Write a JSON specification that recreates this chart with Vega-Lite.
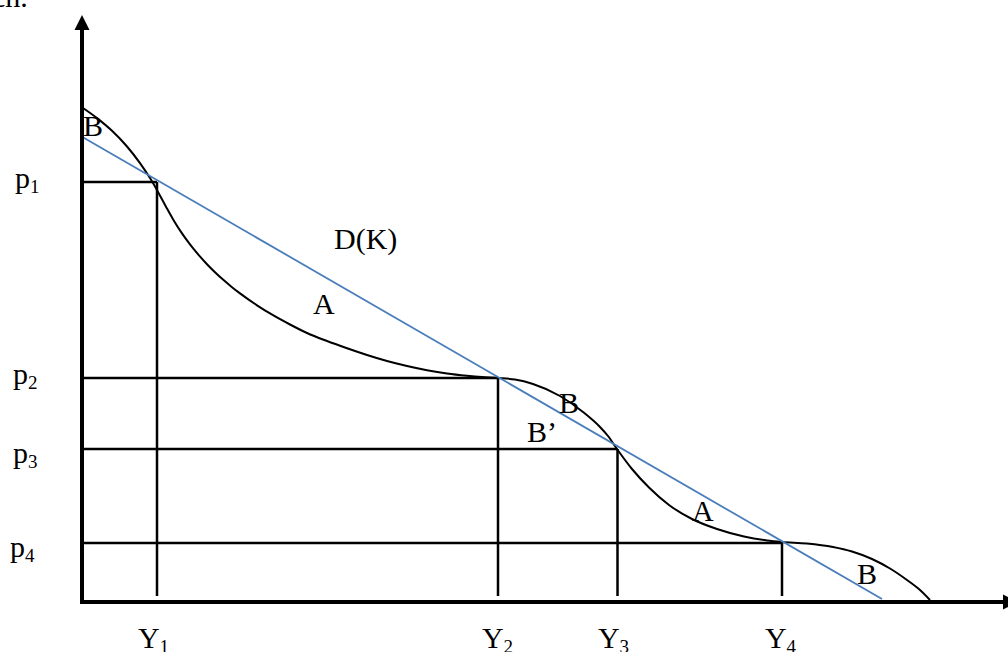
{
  "$schema": "https://vega.github.io/schema/vega-lite/v6.json",
  "width": 1008,
  "height": 652,
  "autosize": {"type": "none"},
  "padding": 0,
  "background": "white",
  "config": {"view": {"stroke": null}},
  "datasets": {
    "axes": [
      {"x": 0, "y": -4, "x2": 0, "y2": 572},
      {"x": -2, "y": -2, "x2": 922, "y2": -2}
    ],
    "arrowUp": [{"x": 0, "y": 577.5}],
    "arrowRight": [{"x": 928.5, "y": -2}],
    "guides": [
      {"x": 0, "y": 418, "x2": 75, "y2": 418},
      {"x": 75, "y": 418, "x2": 75, "y2": 4},
      {"x": 0, "y": 222, "x2": 416, "y2": 222},
      {"x": 416, "y": 222, "x2": 416, "y2": 4},
      {"x": 0, "y": 151, "x2": 535.5, "y2": 151},
      {"x": 535.5, "y": 151, "x2": 535.5, "y2": 4},
      {"x": 0, "y": 57, "x2": 700, "y2": 57},
      {"x": 700, "y": 57, "x2": 700, "y2": 4}
    ],
    "curve": [
      {"x": 1, "y": 492}, {"x": 15, "y": 481.9}, {"x": 30, "y": 469.2}, {"x": 45, "y": 453.5},
      {"x": 58, "y": 436.9}, {"x": 68, "y": 421.9}, {"x": 76, "y": 408.1}, {"x": 84, "y": 393.3},
      {"x": 91, "y": 380.8}, {"x": 100, "y": 366.6}, {"x": 108, "y": 355.6}, {"x": 117, "y": 344.6},
      {"x": 125, "y": 335.8}, {"x": 133, "y": 327.8}, {"x": 141, "y": 320.4}, {"x": 150, "y": 312.8},
      {"x": 158, "y": 306.6}, {"x": 175, "y": 294.7}, {"x": 191, "y": 284.8}, {"x": 208, "y": 275.5},
      {"x": 225, "y": 267}, {"x": 245, "y": 259}, {"x": 265, "y": 251.8}, {"x": 285, "y": 245},
      {"x": 305, "y": 239}, {"x": 325, "y": 234}, {"x": 345, "y": 229.8}, {"x": 365, "y": 226.5},
      {"x": 385, "y": 224.2}, {"x": 400, "y": 222.9}, {"x": 416, "y": 222},
      {"x": 433, "y": 220.5}, {"x": 451, "y": 216}, {"x": 478, "y": 204}, {"x": 501, "y": 188},
      {"x": 518, "y": 173}, {"x": 526, "y": 164}, {"x": 535, "y": 151},
      {"x": 550, "y": 131}, {"x": 567, "y": 112.5}, {"x": 587, "y": 95}, {"x": 610, "y": 81},
      {"x": 635, "y": 71}, {"x": 662, "y": 63.5}, {"x": 685, "y": 59.5}, {"x": 700, "y": 58},
      {"x": 725, "y": 56.5}, {"x": 751, "y": 53}, {"x": 770, "y": 48.5}, {"x": 790, "y": 41},
      {"x": 808, "y": 31.5}, {"x": 825, "y": 20}, {"x": 838, "y": 10}, {"x": 848, "y": 0}
    ],
    "demand": [{"x": 0, "y": 463.3}, {"x": 800, "y": 1}],
    "labels": [
      {"x": -90, "y": 593, "t": "ch."},
      {"x": 1, "y": 464, "t": "B"},
      {"x": -67, "y": 412, "t": "p"},
      {"x": -69, "y": 216, "t": "p"},
      {"x": -69, "y": 137, "t": "p"},
      {"x": -72, "y": 43, "t": "p"},
      {"x": 56, "y": -48, "t": "Y"},
      {"x": 400, "y": -48, "t": "Y"},
      {"x": 516, "y": -48, "t": "Y"},
      {"x": 683, "y": -48, "t": "Y"},
      {"x": 252, "y": 351, "t": "D(K)"},
      {"x": 231, "y": 286, "t": "A"},
      {"x": 477, "y": 187, "t": "B"},
      {"x": 445, "y": 158, "t": "B’"},
      {"x": 610, "y": 79, "t": "A"},
      {"x": 775, "y": 16, "t": "B"}
    ],
    "subs": [
      {"x": -52, "y": 407, "t": "1"},
      {"x": -54, "y": 211, "t": "2"},
      {"x": -54, "y": 132, "t": "3"},
      {"x": -57, "y": 38, "t": "4"},
      {"x": 77.5, "y": -53, "t": "1"},
      {"x": 421.5, "y": -53, "t": "2"},
      {"x": 537.5, "y": -53, "t": "3"},
      {"x": 704.5, "y": -53, "t": "4"}
    ]
  },
  "encoding": {
    "x": {"field": "x", "type": "quantitative", "scale": {"domain": [-82, 926], "nice": false, "zero": false}, "axis": null},
    "y": {"field": "y", "type": "quantitative", "scale": {"domain": [-52, 600], "nice": false, "zero": false}, "axis": null}
  },
  "layer": [
    {
      "data": {"name": "guides"},
      "mark": {"type": "rule", "color": "black", "strokeWidth": 2.5},
      "encoding": {"x2": {"field": "x2"}, "y2": {"field": "y2"}}
    },
    {
      "data": {"name": "curve"},
      "mark": {"type": "line", "color": "black", "strokeWidth": 2, "interpolate": "monotone"},
      "encoding": {}
    },
    {
      "data": {"name": "demand"},
      "mark": {"type": "line", "color": "#4a7ebb", "strokeWidth": 1.8},
      "encoding": {}
    },
    {
      "data": {"name": "axes"},
      "mark": {"type": "rule", "color": "black", "strokeWidth": 4},
      "encoding": {"x2": {"field": "x2"}, "y2": {"field": "y2"}}
    },
    {
      "data": {"name": "arrowUp"},
      "mark": {"type": "point", "shape": "M0,-1L-1,1L1,1Z", "size": 225, "filled": true, "color": "black", "opacity": 1, "strokeWidth": 0}
    },
    {
      "data": {"name": "arrowRight"},
      "mark": {"type": "point", "shape": "M1,0L-1,-1L-1,1Z", "size": 225, "filled": true, "color": "black", "opacity": 1, "strokeWidth": 0}
    },
    {
      "data": {"name": "labels"},
      "mark": {"type": "text", "font": "Liberation Serif", "fontSize": 30, "align": "left", "baseline": "alphabetic", "color": "black"},
      "encoding": {"text": {"field": "t"}}
    },
    {
      "data": {"name": "subs"},
      "mark": {"type": "text", "font": "Liberation Serif", "fontSize": 19, "align": "left", "baseline": "alphabetic", "color": "black"},
      "encoding": {"text": {"field": "t"}}
    }
  ]
}
